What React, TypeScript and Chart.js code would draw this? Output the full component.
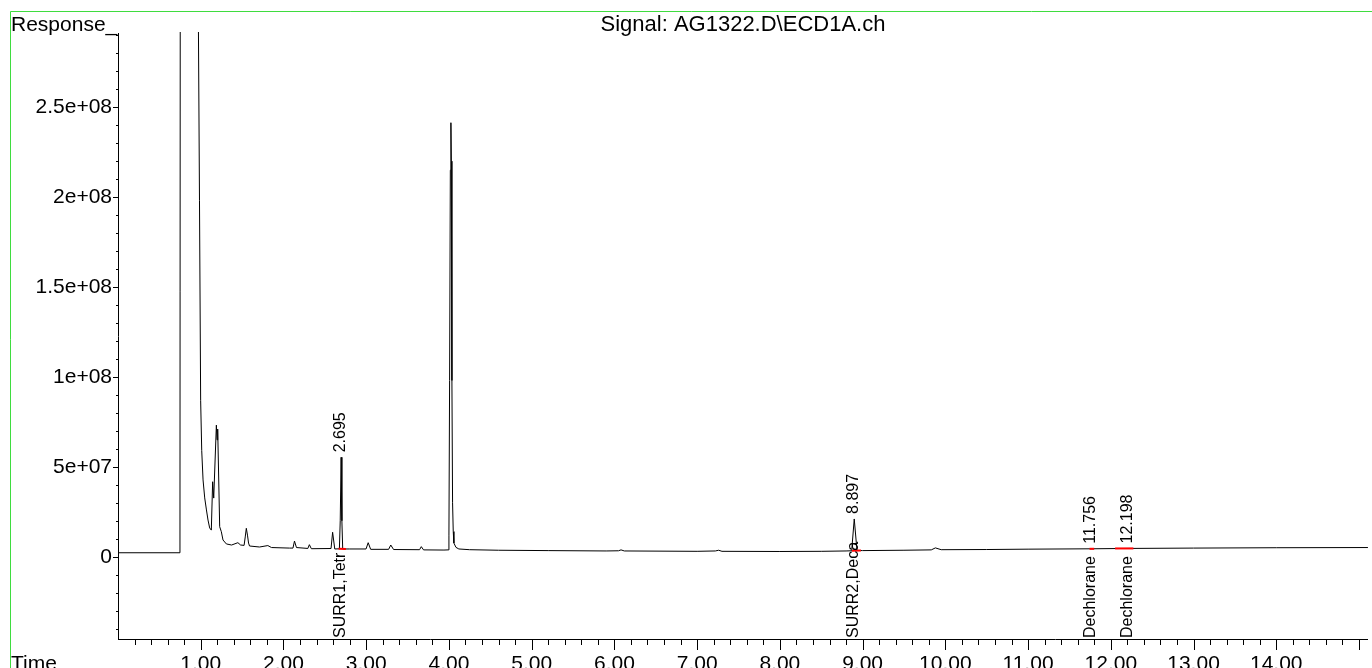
import React, { useEffect, useRef } from 'react';
import { Chart, registerables } from 'chart.js';

Chart.register(...registerables);

const FONT = "'Liberation Sans', Arial, Helvetica, sans-serif";

const TITLE = 'Signal: AG1322.D\\ECD1A.ch';
const Y_AXIS_TITLE = 'Response_';
const X_AXIS_TITLE = 'Time';

// retention time (min)
const TIMES = [
  0, 0.749, 0.753, 0.962, 0.985, 0.999, 1.012, 1.028, 1.048, 1.069, 1.088, 1.108, 1.128,
  1.144, 1.157, 1.189, 1.197, 1.205, 1.229, 1.249, 1.269, 1.31, 1.373, 1.449, 1.482,
  1.524, 1.538, 1.551, 1.565, 1.578, 1.59, 1.711, 1.811, 1.855, 2.072, 2.115, 2.133, 2.157,
  2.295, 2.313, 2.337, 2.575, 2.594, 2.62, 2.676, 2.686, 2.697, 2.706, 2.716, 2.795,
  2.998, 3.024, 3.054, 3.271, 3.297, 3.331, 3.645, 3.666, 3.693, 3.94,
  3.99, 4.0, 4.008, 4.017, 4.024, 4.029, 4.036, 4.044, 4.052, 4.06, 4.085, 4.12, 4.25,
  4.6, 5.2, 5.9, 6.05, 6.08, 6.12, 7.0, 7.22, 7.26, 7.3, 8.0, 8.5, 8.8,
  8.868, 8.899, 8.932, 9.0, 9.5, 9.83, 9.88, 9.95, 10.5, 11.0, 11.75, 12.2, 13.0, 14.0, 15.108,
];

// detector response
const RESPONSES = [
  2.2e6, 2.2e6, 3.7e8, 3.7e8, 1.98e8, 8.7e7, 5.9e7, 4.27e7, 3.27e7, 2.6e7, 2.04e7, 1.6e7, 1.48e7,
  4.17e7, 3.26e7, 7.32e7, 6.5e7, 7.1e7, 1.67e7, 1.39e7, 9.3e6, 7.1e6, 6.5e6, 7.8e6, 6.5e6,
  6.3e6, 1.1e7, 1.58e7, 1.2e7, 7.6e6, 5.95e6, 5.4e6, 6.2e6, 5.1e6, 4.8e6, 4.8e6, 8.7e6, 5.1e6,
  4.6e6, 6.7e6, 4.45e6, 4.56e6, 1.36e7, 4.3e6, 4.4e6, 2.0e7, 5.53e7, 2.0e7, 4.3e6, 4.3e6,
  4.3e6, 7.8e6, 4.1e6, 4.1e6, 6.5e6, 4.0e6, 3.9e6, 5.6e6, 3.8e6, 3.7e6,
  3.8e6, 1.2e7, 9.8e7, 2.15e8, 2.414e8, 2.2e8, 9.8e7, 3.0e7, 1.4e7, 7.6e6, 5.2e6, 4.3e6, 3.9e6,
  3.6e6, 3.4e6, 3.2e6, 3.3e6, 3.8e6, 3.2e6, 3.0e6, 3.2e6, 3.6e6, 3.0e6, 2.9e6, 3.0e6, 3.2e6,
  3.3e6, 2.1e7, 3.5e6, 3.4e6, 3.6e6, 3.8e6, 4.9e6, 3.9e6, 4.0e6, 4.2e6, 4.4e6, 4.6e6, 4.8e6, 5.0e6, 5.1e6,
];

// integration baselines (drawn red)
const BASE_START_TIMES = [2.666, 8.871, 11.743, 12.052];
const BASE_END_TIMES = [2.755, 8.98, 11.799, 12.273];
const BASE_START_VALUES = [4.4e6, 3.3e6, 4.4e6, 4.6e6];
const BASE_END_VALUES = [4.3e6, 3.4e6, 4.4e6, 4.6e6];

// peak annotations
const RT_TIMES = [2.695, 8.897, 11.756, 12.198];
const RT_LABELS = ['2.695', '8.897', '11.756', '12.198'];
const COMPOUND_LABELS = ['SURR1,Tetr', 'SURR2,Deca', 'Dechlorane', 'Dechlorane'];

// axes
const X_MIN = 0;
const X_MAX = 15.108;
const X_STEP = 0.2;
const X_TICK_VALUES = [1, 2, 3, 4, 5, 6, 7, 8, 9, 10, 11, 12, 13, 14];
const X_TICK_LABELS = ['1.00', '2.00', '3.00', '4.00', '5.00', '6.00', '7.00', '8.00', '9.00', '10.00', '11.00', '12.00', '13.00', '14.00'];
const Y_MIN = -4.577e7;
const Y_MAX = 2.913e8;
const Y_STEP = 1e7;
const Y_TICK_VALUES = [0, 5e7, 1e8, 1.5e8, 2e8, 2.5e8];
const Y_TICK_LABELS = ['0', '5e+07', '1e+08', '1.5e+08', '2e+08', '2.5e+08'];

function stepTicks(min: number, max: number, step: number) {
  const out: { value: number }[] = [];
  const k0 = Math.ceil(min / step - 1e-9);
  const k1 = Math.floor(max / step + 1e-9);
  for (let k = k0; k <= k1; k++) out.push({ value: Math.round(k * step * 1e6) / 1e6 });
  return out;
}

function anchorValue(t: number): number {
  let best = -Infinity;
  for (let i = 0; i < TIMES.length; i++) {
    if (Math.abs(TIMES[i] - t) <= 0.02) best = Math.max(best, RESPONSES[i]);
  }
  if (best === -Infinity) {
    for (let i = 1; i < TIMES.length; i++) {
      if (TIMES[i] >= t) {
        const f = (t - TIMES[i - 1]) / (TIMES[i] - TIMES[i - 1]);
        return RESPONSES[i - 1] + f * (RESPONSES[i] - RESPONSES[i - 1]);
      }
    }
  }
  return best;
}

const decorPlugin = {
  id: 'decor',
  afterDraw(chart: any) {
    const { ctx, chartArea, scales } = chart;
    const xs = scales.x;
    const ys = scales.y;
    ctx.save();

    // frame
    ctx.strokeStyle = '#3fdc3f';
    ctx.lineWidth = 1;
    ctx.beginPath();
    ctx.moveTo(10.5, 11.5);
    ctx.lineTo(chart.width, 11.5);
    ctx.moveTo(10.5, 11.5);
    ctx.lineTo(10.5, chart.height);
    ctx.stroke();

    // tick marks
    ctx.strokeStyle = '#000';
    ctx.lineWidth = 1;
    ctx.beginPath();
    for (const tk of xs.ticks) {
      const v = tk.value;
      if (Math.abs(v) < 1e-9) continue;
      const major = Math.abs(v - Math.round(v)) < 1e-6;
      const px = Math.round(xs.getPixelForValue(v)) + 0.5;
      ctx.moveTo(px, chartArea.bottom);
      ctx.lineTo(px, chartArea.bottom + (major ? 11 : 6));
    }
    for (const tk of ys.ticks) {
      const v = tk.value;
      const major = Math.abs(v / 5e7 - Math.round(v / 5e7)) < 1e-6;
      const py = Math.round(ys.getPixelForValue(v)) + 0.5;
      ctx.moveTo(chartArea.left, py);
      ctx.lineTo(chartArea.left - (major ? 5 : 2), py);
    }
    ctx.stroke();

    // titles
    ctx.fillStyle = '#000';
    ctx.font = `21px ${FONT}`;
    ctx.textBaseline = 'alphabetic';
    ctx.textAlign = 'left';
    ctx.fillText(Y_AXIS_TITLE, 11, 31);
    ctx.fillText(X_AXIS_TITLE, 11, 670);
    ctx.font = `22px ${FONT}`;
    ctx.textAlign = 'center';
    ctx.fillText(TITLE, (chartArea.left + chartArea.right) / 2, 31);

    // peak annotations
    ctx.font = `16px ${FONT}`;
    ctx.textAlign = 'left';
    ctx.textBaseline = 'middle';
    for (let i = 0; i < RT_TIMES.length; i++) {
      const px = xs.getPixelForValue(RT_TIMES[i]);
      const py = ys.getPixelForValue(anchorValue(RT_TIMES[i])) - 5;
      ctx.save();
      ctx.translate(px, py);
      ctx.rotate(-Math.PI / 2);
      ctx.fillText(RT_LABELS[i], 0, 0);
      ctx.restore();
      ctx.save();
      ctx.translate(px, chartArea.bottom - 1);
      ctx.rotate(-Math.PI / 2);
      ctx.fillText(COMPOUND_LABELS[i], 0, 0);
      ctx.restore();
    }
    ctx.restore();
  },
};

function labelFor(values: number[], labels: string[], v: number, tol: number): string {
  const idx = values.findIndex((tv) => Math.abs(tv - v) < tol);
  return idx >= 0 ? labels[idx] : '';
}

export default function App() {
  const ref = useRef<HTMLCanvasElement>(null);

  useEffect(() => {
    const canvas = ref.current;
    if (!canvas) return;

    const trace = TIMES.map((t, i) => ({ x: t, y: RESPONSES[i] }));
    const baseSets = BASE_START_TIMES.map((t, i) => ({
      data: [
        { x: t, y: BASE_START_VALUES[i] },
        { x: BASE_END_TIMES[i], y: BASE_END_VALUES[i] },
      ],
      borderColor: '#ff0000',
      borderWidth: 2,
      pointRadius: 0,
      tension: 0,
      fill: false,
      order: 0,
    }));

    const chart = new Chart(canvas, {
      type: 'line',
      data: {
        datasets: [
          {
            data: trace,
            borderColor: '#000000',
            borderWidth: 1,
            pointRadius: 0,
            tension: 0,
            fill: false,
            order: 1,
            clip: 1,
          } as any,
          ...baseSets,
        ],
      },
      options: {
        animation: false,
        responsive: false,
        devicePixelRatio: 1,
        layout: { padding: { top: 33, left: 0, right: 0, bottom: 0 } },
        plugins: {
          legend: { display: false },
          title: { display: false },
          tooltip: { enabled: false },
        },
        events: [],
        scales: {
          x: {
            type: 'linear',
            min: X_MIN,
            max: X_MAX,
            grid: { drawOnChartArea: false, drawTicks: false },
            border: { display: true, color: '#000', width: 1 },
            afterBuildTicks: (s: any) => {
              s.ticks = stepTicks(X_MIN, X_MAX, X_STEP);
            },
            ticks: {
              autoSkip: false,
              maxRotation: 0,
              minRotation: 0,
              padding: 13,
              color: '#000',
              font: { family: FONT, size: 21 },
              callback: (v: any) => labelFor(X_TICK_VALUES, X_TICK_LABELS, Number(v), 1e-6),
            },
            afterFit: (s: any) => {
              s.height = 29;
            },
          },
          y: {
            type: 'linear',
            min: Y_MIN,
            max: Y_MAX,
            grid: { drawOnChartArea: false, drawTicks: false },
            border: { display: true, color: '#000', width: 1 },
            afterBuildTicks: (s: any) => {
              s.ticks = stepTicks(Y_MIN, Y_MAX, Y_STEP);
            },
            ticks: {
              autoSkip: false,
              padding: 6,
              color: '#000',
              font: { family: FONT, size: 21 },
              callback: (v: any) => labelFor(Y_TICK_VALUES, Y_TICK_LABELS, Number(v), 1),
            },
            afterFit: (s: any) => {
              s.width = 118;
            },
          },
        },
      } as any,
      plugins: [decorPlugin],
    });

    return () => chart.destroy();
  }, []);

  return (
    <div style={{ position: 'fixed', left: 0, top: 0, width: 1372, height: 668, background: '#fff' }}>
      <canvas ref={ref} width={1372} height={668} style={{ display: 'block', width: 1372, height: 668 }} />
    </div>
  );
}
